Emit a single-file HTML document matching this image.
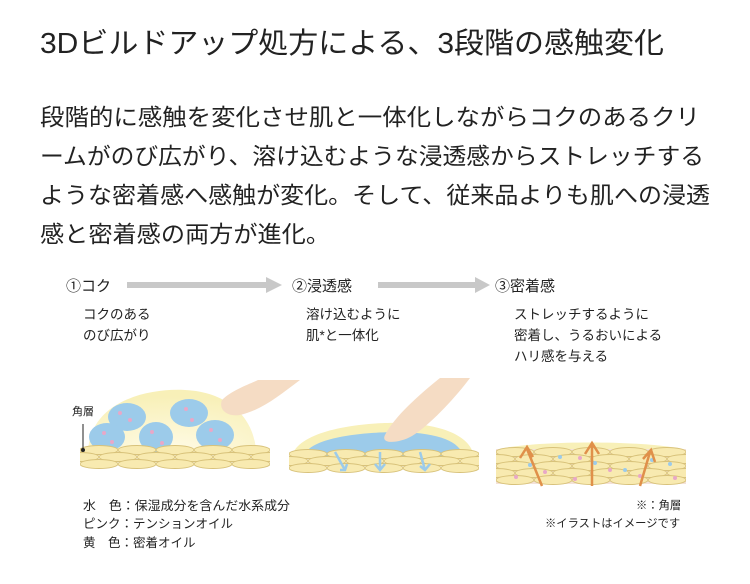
<!DOCTYPE html>
<html><head><meta charset="utf-8"><style>
body{margin:0;width:750px;height:584px;background:#fff;overflow:hidden}
svg{display:block}
text{font-family:"Liberation Sans","Noto Sans CJK JP",sans-serif;fill:#222}
</style></head><body>
<svg width="750" height="584" viewBox="0 0 750 584">
<defs>
<g id="cell"><ellipse cx="0" cy="0" rx="19" ry="4.5" fill="#f8eab0" stroke="#d8c27a" stroke-width="1"/></g>
<g id="row5">
<use href="#cell" x="19"/><use href="#cell" x="57"/><use href="#cell" x="95"/><use href="#cell" x="133"/><use href="#cell" x="171"/>
</g>
<g id="rowo">
<use href="#cell" x="0"/><use href="#cell" x="38"/><use href="#cell" x="76"/><use href="#cell" x="114"/><use href="#cell" x="152"/><use href="#cell" x="190"/>
</g>
<clipPath id="c3"><rect x="0" y="-10" width="190" height="60"/></clipPath>
<radialGradient id="dome" cx="0.5" cy="1" r="0.9"><stop offset="0" stop-color="#fffbe6"/><stop offset="1" stop-color="#f8f0b8"/></radialGradient>
</defs>
<text x="40" y="53" font-size="29" textLength="624" lengthAdjust="spacingAndGlyphs">3Dビルドアップ処方による、3段階の感触変化</text>
<g font-size="23">
<text x="40" y="125" textLength="660" lengthAdjust="spacingAndGlyphs">段階的に感触を変化させ肌と一体化しながらコクのあるクリ</text>
<text x="40" y="164" textLength="664" lengthAdjust="spacingAndGlyphs">ームがのび広がり、溶け込むような浸透感からストレッチする</text>
<text x="40" y="203" textLength="670" lengthAdjust="spacingAndGlyphs">ような密着感へ感触が変化。そして、従来品よりも肌への浸透</text>
<text x="40" y="242" textLength="290" lengthAdjust="spacingAndGlyphs">感と密着感の両方が進化。</text>
</g>
<g font-size="15">
<text x="66" y="291">①コク</text><text x="292" y="291">②浸透感</text><text x="495" y="291">③密着感</text>
</g>
<rect x="127" y="282" width="140" height="6" fill="#c8c8c8"/><polygon points="266,277 282,285 266,293" fill="#c8c8c8"/>
<rect x="378" y="282" width="98" height="6" fill="#c8c8c8"/><polygon points="475,277 490,285 475,293" fill="#c8c8c8"/>
<g font-size="13.5">
<text x="83" y="319">コクのある</text><text x="83" y="340">のび広がり</text>
<text x="306" y="319">溶け込むように</text><text x="306" y="340">肌*と一体化</text>
<text x="514" y="319">ストレッチするように</text><text x="514" y="340">密着し、うるおいによる</text><text x="514" y="361">ハリ感を与える</text>
</g>
<!-- panel 1 -->
<path d="M88,452 C90,400 150,388 185,390 C230,392 255,420 256,452 Z" fill="url(#dome)"/>
<g fill="#9ccbea"><ellipse cx="127" cy="417" rx="19" ry="14"/><ellipse cx="189" cy="413" rx="19" ry="14"/><ellipse cx="107" cy="437" rx="18" ry="14"/><ellipse cx="156" cy="437" rx="17" ry="15"/><ellipse cx="215" cy="435" rx="19" ry="15"/></g>
<g fill="#e8a8c8"><circle cx="120" cy="413" r="2"/><circle cx="130" cy="420" r="2"/><circle cx="186" cy="409" r="2"/><circle cx="192" cy="420" r="2"/><circle cx="104" cy="433" r="2"/><circle cx="112" cy="442" r="2"/><circle cx="152" cy="432" r="2"/><circle cx="162" cy="443" r="2"/><circle cx="211" cy="430" r="2"/><circle cx="220" cy="440" r="2"/></g>
<path d="M222,400 C232,390 250,384 258,380 L300,380 C280,395 262,410 240,415 C228,417 218,410 222,400 Z" fill="#f5dcc4"/>
<g transform="translate(80,450)" clip-path="url(#c3)"><use href="#row5"/><use href="#rowo" y="7"/><use href="#row5" y="14"/></g>
<text x="72" y="415" font-size="11">角層</text>
<line x1="83" y1="424" x2="83" y2="450" stroke="#222"/><circle cx="83" cy="450" r="2" fill="#222"/>
<!-- panel 2 -->
<path d="M292,456 C300,428 370,422 400,423 C440,424 470,435 474,456 Z" fill="#f8f0b8"/>
<path d="M304,456 C310,436 370,432 400,432 C440,433 460,442 463,456 Z" fill="#9ccbea"/>
<path d="M385,435 C395,415 425,390 440,378 L470,378 C455,398 430,425 412,436 C400,443 380,445 385,435 Z" fill="#f5dcc4"/>
<g transform="translate(289,454)" clip-path="url(#c3)"><use href="#row5"/><use href="#rowo" y="7"/><use href="#row5" y="14"/></g>
<g stroke="#9ccbea" stroke-width="2.5" fill="none"><path d="M335,452 L345,470 M340,470 L345,470 L347,464"/><path d="M380,452 L380,470 M375,464 L380,470 L385,464"/><path d="M420,452 L425,470 M420,466 L425,470 L430,464"/></g>
<!-- panel 3 -->
<path d="M496,450 C530,440 650,440 686,450 Z" fill="#f8f0b8"/>
<rect x="496" y="449" width="190" height="35" fill="#f4e2d8"/>
<g transform="translate(496,452)" clip-path="url(#c3)"><use href="#row5"/><use href="#rowo" y="7"/><use href="#row5" y="14"/><use href="#rowo" y="21"/><use href="#row5" y="28"/></g>
<g fill="#9ccbea"><circle cx="530" cy="465" r="2"/><circle cx="560" cy="457" r="2"/><circle cx="595" cy="463" r="2"/><circle cx="625" cy="470" r="2"/><circle cx="652" cy="460" r="2"/><circle cx="670" cy="464" r="2"/></g>
<g fill="#e8a8c8"><circle cx="516" cy="477" r="2"/><circle cx="545" cy="472" r="2"/><circle cx="575" cy="479" r="2"/><circle cx="610" cy="470" r="2"/><circle cx="640" cy="476" r="2"/><circle cx="675" cy="478" r="2"/><circle cx="580" cy="458" r="2"/></g>
<g stroke="#e0904a" stroke-width="2.5" fill="none"><path d="M542,486 L527,449 M520,458 L527,447 L533,457"/><path d="M592,486 L592,444 M585,454 L592,443 L599,454"/><path d="M640,486 L650,452 M643,459 L651,450 L655,462"/></g>
<g font-size="12.5">
<text x="83" y="510" textLength="207" lengthAdjust="spacingAndGlyphs">水　色：保湿成分を含んだ水系成分</text>
<text x="83" y="528">ピンク：テンションオイル</text>
<text x="83" y="547">黄　色：密着オイル</text>
</g>
<g font-size="11.3">
<text x="636" y="509">※：角層</text>
<text x="545" y="527">※イラストはイメージです</text>
</g>
</svg>
</body></html>
